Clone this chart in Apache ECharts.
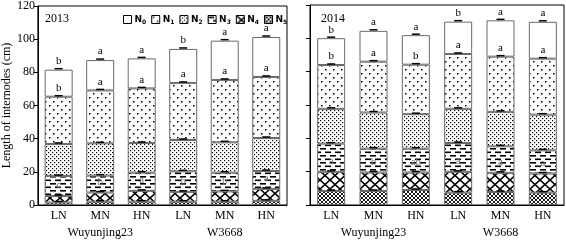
<!DOCTYPE html>
<html>
<head>
<meta charset="utf-8">
<title>Length of internodes</title>
<script src="https://cdn.jsdelivr.net/npm/echarts@6/dist/echarts.min.js"></script>
<style>
  html, body { margin: 0; padding: 0; background: #fff; }
  #chart { width: 566px; height: 241px; }
</style>
</head>
<body>
<div id="chart"></div>
<script>
// categories
var cultivars = ['Wuyunjing23', 'W3668'];
var nLevels = ['LN', 'MN', 'HN'];
var segNames = ['N0', 'N1', 'N2', 'N3', 'N4', 'N5'];
var yTicks = [0, 20, 40, 60, 80, 100, 120];

// 2013 internode lengths (cm), one value per bar
var n0_2013 = [16.3, 18.3, 18.1, 20.5, 23.7, 24.1];
var n1_2013 = [28.5, 31.9, 32.9, 34.4, 37.6, 36.8];
var n2_2013 = [19.3, 19.5, 17.9, 18.9, 18.3, 19.9];
var n3_2013 = [12.1, 10.2, 11.0, 12.4, 11.3, 10.8];
var n4_2013 = [3.9, 5.5, 6.5, 5.9, 6.2, 7.2];
var n5_2013 = [1.5, 2.0, 2.0, 2.0, 2.0, 2.5];

// 2014
var n0_2014 = [16.1, 18.5, 17.7, 19.4, 21.8, 22.1];
var n1_2014 = [26.3, 30.5, 29.7, 32.9, 33.1, 33.6];
var n2_2014 = [20.9, 21.7, 20.7, 20.5, 20.7, 21.4];
var n3_2014 = [16.9, 14.3, 14.3, 17.3, 15.9, 13.9];
var n4_2014 = [11.5, 11.1, 10.5, 12.5, 11.5, 11.5];
var n5_2014 = [8.4, 8.4, 9.0, 7.4, 7.8, 7.4];

// significance letters
var letN0_2013 = ['b', 'a', 'a', 'b', 'a', 'a'];
var letN1_2013 = ['b', 'a', 'a', 'a', 'a', 'a'];
var letN4_2013 = ['c', 'b', 'a', 'b', 'b', 'a'];
var letN0_2014 = ['b', 'a', 'a', 'b', 'a', 'a'];
var letN1_2014 = ['b', 'a', 'b', 'a', 'a', 'a'];
var letN4_2014 = ['a', 'b', 'ab', 'a', 'a', 'a'];

var SERIF = 'Liberation Serif';

var categories = [];
cultivars.forEach(function (c) {
  nLevels.forEach(function (n) { categories.push(c + '|' + n); });
});

// fill patterns
function pattern(w, h, draw) {
  var c = document.createElement('canvas');
  c.width = w; c.height = h;
  var ctx = c.getContext('2d');
  ctx.fillStyle = '#fff';
  ctx.fillRect(0, 0, w, h);
  ctx.fillStyle = '#000';
  ctx.strokeStyle = '#000';
  draw(ctx);
  return { image: c, repeat: 'repeat' };
}
var fills = {
  N0: '#fff',
  N1: pattern(8, 8, function (ctx) {
    ctx.fillRect(1, 1, 1.5, 1.5);
    ctx.fillRect(5, 5, 1.5, 1.5);
  }),
  N2: pattern(4, 4, function (ctx) {
    ctx.fillRect(0, 0, 1.2, 1.2);
    ctx.fillRect(2, 2, 1.2, 1.2);
  }),
  N3: pattern(10, 7, function (ctx) {
    ctx.fillRect(0, 1, 6, 1.6);
    ctx.fillRect(5, 4.5, 6, 1.6);
    ctx.fillRect(-5, 4.5, 6, 1.6);
  }),
  N4: pattern(10, 9, function (ctx) {
    ctx.lineWidth = 1.6;
    ctx.beginPath();
    ctx.moveTo(0, 0); ctx.lineTo(10, 9);
    ctx.moveTo(10, 0); ctx.lineTo(0, 9);
    ctx.stroke();
  }),
  N5: pattern(4, 4, function (ctx) {
    ctx.lineWidth = 0.9;
    ctx.beginPath();
    ctx.moveTo(0, 0); ctx.lineTo(4, 4);
    ctx.moveTo(4, 0); ctx.lineTo(0, 4);
    ctx.stroke();
  })
};

function makeSeries(gi, segs, letters) {
  // segs: {N0:[..], ...}; bottom of the stack is N5
  var out = [];
  ['N5', 'N4', 'N3', 'N2', 'N1', 'N0'].forEach(function (name) {
    var lab = letters[name];
    out.push({
      name: name,
      type: 'bar',
      stack: 'y' + gi,
      xAxisIndex: gi * 2,
      yAxisIndex: gi,
      barWidth: 28,
      data: segs[name],
      itemStyle: { color: fills[name], borderColor: '#6a6a6a', borderWidth: 1 },
      label: lab ? {
        show: true,
        position: 'top',
        distance: name === 'N4' ? 5 : 3,
        fontFamily: SERIF,
        fontSize: 11,
        color: name === 'N4' ? '#777' : '#000',
        formatter: function (p) { return lab[p.dataIndex]; }
      } : { show: false },
      emphasis: { disabled: true }
    });
  });
  // error caps at the top of every segment
  var caps = [];
  for (var i = 0; i < categories.length; i++) {
    var acc = 0;
    ['N5', 'N4', 'N3', 'N2', 'N1', 'N0'].forEach(function (name) {
      acc += segs[name][i];
      caps.push([i, acc]);
    });
  }
  out.push({
    type: 'custom',
    xAxisIndex: gi * 2,
    yAxisIndex: gi,
    z: 5,
    silent: true,
    data: caps,
    renderItem: function (params, api) {
      var p = api.coord([api.value(0), api.value(1)]);
      return {
        type: 'line',
        shape: { x1: p[0] - 4, y1: p[1] - 1, x2: p[0] + 4, y2: p[1] - 1 },
        style: { stroke: '#000', lineWidth: 1.5 }
      };
    }
  });
  return out;
}

var series = []
  .concat(makeSeries(0,
    { N0: n0_2013, N1: n1_2013, N2: n2_2013, N3: n3_2013, N4: n4_2013, N5: n5_2013 },
    { N0: letN0_2013, N1: letN1_2013, N4: letN4_2013 }))
  .concat(makeSeries(1,
    { N0: n0_2014, N1: n1_2014, N2: n2_2014, N3: n3_2014, N4: n4_2014, N5: n5_2014 },
    { N0: letN0_2014, N1: letN1_2014, N4: letN4_2014 }));

function catAxis(gi) {
  return {
    type: 'category',
    gridIndex: gi,
    data: categories,
    axisLine: { lineStyle: { color: '#000', width: 1 } },
    axisTick: { length: 4, lineStyle: { color: '#000' } },
    axisLabel: {
      fontFamily: SERIF, fontSize: 12, color: '#000', margin: 5,
      formatter: function (v) { return v.split('|')[1]; }
    }
  };
}
function groupAxis(gi) {
  return {
    type: 'category',
    gridIndex: gi,
    position: 'bottom',
    offset: 16,
    data: cultivars,
    axisLine: { show: false },
    axisTick: { show: false },
    axisLabel: { fontFamily: SERIF, fontSize: 12, color: '#000', margin: 6 }
  };
}
function valAxis(gi) {
  return {
    type: 'value',
    gridIndex: gi,
    min: yTicks[0],
    max: yTicks[yTicks.length - 1],
    interval: yTicks[1] - yTicks[0],
    name: gi === 0 ? 'Length of internodes (cm)' : '',
    nameLocation: 'middle',
    nameGap: 24,
    nameTextStyle: { fontFamily: SERIF, fontSize: 12, color: '#000' },
    axisLine: { show: true, lineStyle: { color: '#000', width: 1 } },
    axisTick: { show: true, length: 4, lineStyle: { color: '#000' } },
    axisLabel: { show: gi === 0, fontFamily: SERIF, fontSize: 12, color: '#000', margin: 3 },
    splitLine: { show: false }
  };
}

var myChart = echarts.init(document.getElementById('chart'));
var option = {
  animation: false,
  backgroundColor: '#fff',
  title: [
    { text: '2013', left: 40, top: 8, textStyle: { fontFamily: SERIF, fontSize: 12, fontWeight: 'normal', color: '#000' } },
    { text: '2014', left: 316, top: 8, textStyle: { fontFamily: SERIF, fontSize: 12, fontWeight: 'normal', color: '#000' } }
  ],
  legend: {
    data: segNames,
    icon: 'rect',
    left: 118,
    top: 10,
    itemWidth: 8,
    itemHeight: 8,
    itemGap: 5,
    itemStyle: { borderColor: '#000', borderWidth: 1 },
    selectedMode: false,
    formatter: function (name) { return '{b|N}{s|' + name.slice(1) + '}'; },
    textStyle: {
      padding: [0, 0, 0, -2],
      rich: {
        b: { fontFamily: 'DejaVu Sans', fontWeight: 'bold', fontSize: 9, color: '#000' },
        s: { fontFamily: 'DejaVu Sans', fontWeight: 'bold', fontSize: 6, color: '#000', padding: [5, 0, 0, 0] }
      }
    }
  },
  grid: [
    { left: 35, right: 279, top: 5, bottom: 36, show: true, borderColor: '#000', borderWidth: 1 },
    { left: 310, right: 2, top: 5, bottom: 36, show: true, borderColor: '#000', borderWidth: 1 }
  ],
  xAxis: [catAxis(0), groupAxis(0), catAxis(1), groupAxis(1)],
  yAxis: [valAxis(0), valAxis(1)],
  series: series
};
myChart.setOption(option);
</script>
</body>
</html>
